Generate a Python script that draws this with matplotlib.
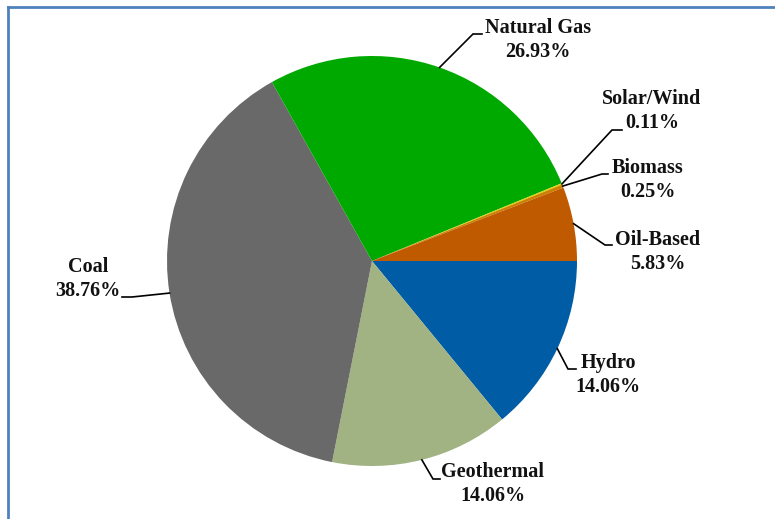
import numpy as np
import matplotlib
matplotlib.use('Agg')
import matplotlib.pyplot as plt
from matplotlib.lines import Line2D

W, H = 775, 519

# data, clockwise from 3 o'clock
sources = ['Hydro', 'Geothermal', 'Coal', 'Natural Gas', 'Solar/Wind', 'Biomass', 'Oil-Based']
shares = [14.06, 14.06, 38.76, 26.93, 0.11, 0.25, 5.83]
colors = ['#005DA5', '#A1B283', '#696969', '#00A900', '#E2D000', '#CC8000', '#C05A00']

# label layout in pixels (block centre, leader elbow, leader end)
label_pos = [(608, 375), (493, 484), (88, 279), (538, 40), (652, 111), (648, 180), (658, 252)]
elbows = [(568, 369), (433, 479), (132, 297), (473, 34), (612, 130), (602, 174), (605, 245)]
ends = [(576, 369), (440, 479), (122, 297), (482, 34), (622, 130), (608, 174), (612, 245)]

cx, cy, r = 372, 261, 205

fig = plt.figure(figsize=(W / 100, H / 100), dpi=100)
ax = fig.add_axes([0, 0, 1, 1])

wedges, _ = ax.pie(shares, colors=colors, startangle=0, counterclock=False,
                   center=(cx, H - cy), radius=r, frame=True,
                   wedgeprops=dict(linewidth=0))
ax.set_xlim(0, W)
ax.set_ylim(0, H)
ax.set_aspect('equal')
ax.axis('off')

for w, name, val, (tx, ty), (ex, ey), (nx, ny) in zip(wedges, sources, shares, label_pos, elbows, ends):
    mid = np.deg2rad((w.theta1 + w.theta2) / 2)
    px = cx + r * np.cos(mid)
    py = (H - cy) + r * np.sin(mid)
    ax.plot([px, ex, nx], [py, H - ey, H - ny], color='black', lw=1.2,
            solid_joinstyle='miter')
    ax.text(tx, H - ty, f'{name}\n{val:.2f}%', ha='center', va='center',
            multialignment='center', fontsize=14.5, fontweight='bold',
            family='Liberation Serif', color='#111111', linespacing=1.3)

# outer frame (blue left and top edges)
fig.add_artist(Line2D([8 / W, 1], [1 - 7 / H, 1 - 7 / H], color='#4F81BD', lw=2))
fig.add_artist(Line2D([8 / W, 8 / W], [0, 1 - 7 / H], color='#4F81BD', lw=2))

fig.savefig('out.png', dpi=100, facecolor='white')
